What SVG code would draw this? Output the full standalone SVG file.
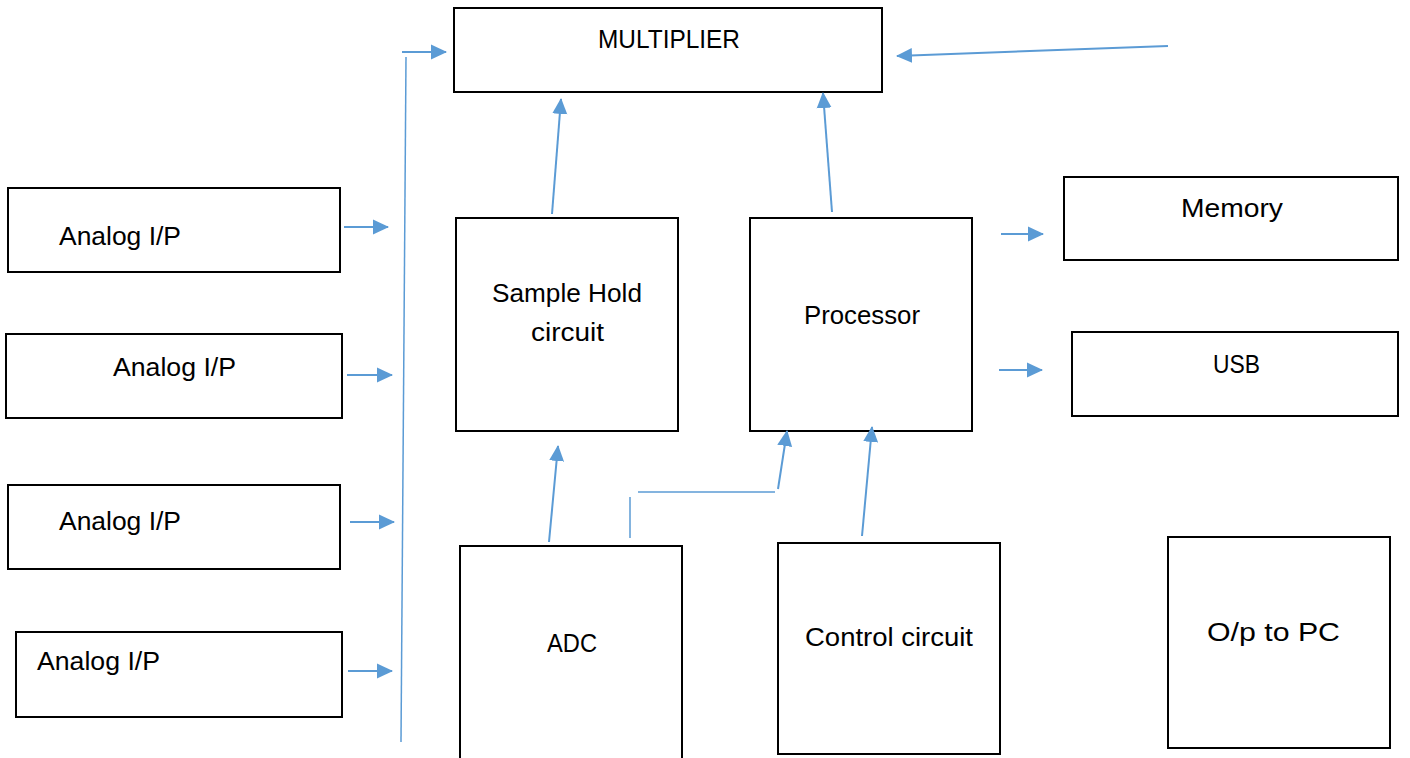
<svg xmlns="http://www.w3.org/2000/svg" width="1410" height="758" viewBox="0 0 1410 758">
<defs>
<marker id="ah" markerWidth="10" markerHeight="10" refX="9" refY="5" orient="auto" markerUnits="userSpaceOnUse" viewBox="0 0 10 10">
<path d="M0,0 L10,5 L0,10 z" fill="#5B9BD5"/>
</marker>
<style>
.box{fill:#fff;stroke:#000;stroke-width:2}
.t{font-family:"Liberation Sans",Arial,sans-serif;font-size:25px;fill:#000}
.c{fill:none;stroke:#5B9BD5;stroke-width:2}
.a{fill:none;stroke:#5B9BD5;stroke-width:2;marker-end:url(#ah)}
.thin{fill:none;stroke:#5B9BD5;stroke-width:1.5}
</style>
<marker id="ahb" markerWidth="16" markerHeight="16" refX="15" refY="8" orient="auto" markerUnits="userSpaceOnUse" viewBox="0 0 16 16">
<path d="M0,0.5 L16,8 L0,15.5 z" fill="#5B9BD5"/>
</marker>
</defs>
<rect width="1410" height="758" fill="#fff"/>
<g id="in1"><rect class="box" x="8" y="188" width="332" height="84"/><text class="t" x="59" y="245" textLength="122" lengthAdjust="spacingAndGlyphs">Analog I/P</text></g>
<g id="in2"><rect class="box" x="6" y="334" width="336" height="84"/><text class="t" x="113" y="376" textLength="123" lengthAdjust="spacingAndGlyphs">Analog I/P</text></g>
<g id="in3"><rect class="box" x="8" y="485" width="332" height="84"/><text class="t" x="59" y="530" textLength="122" lengthAdjust="spacingAndGlyphs">Analog I/P</text></g>
<g id="in4"><rect class="box" x="16" y="632" width="326" height="85"/><text class="t" x="37" y="670" textLength="123" lengthAdjust="spacingAndGlyphs">Analog I/P</text></g>
<g id="multiplier"><rect class="box" x="454" y="8" width="428" height="84"/><text class="t" x="598" y="48" textLength="142" lengthAdjust="spacingAndGlyphs">MULTIPLIER</text></g>
<g id="samplehold"><rect class="box" x="456" y="218" width="222" height="213"/><text class="t" x="492" y="302" textLength="150" lengthAdjust="spacingAndGlyphs">Sample Hold</text><text class="t" x="531" y="341" textLength="73" lengthAdjust="spacingAndGlyphs">circuit</text></g>
<g id="processor"><rect class="box" x="750" y="218" width="222" height="213"/><text class="t" x="804" y="324" textLength="116" lengthAdjust="spacingAndGlyphs">Processor</text></g>
<g id="memory"><rect class="box" x="1064" y="177" width="334" height="83"/><text class="t" x="1181" y="217" textLength="102" lengthAdjust="spacingAndGlyphs">Memory</text></g>
<g id="usb"><rect class="box" x="1072" y="332" width="326" height="84"/><text class="t" x="1213" y="373" textLength="47" lengthAdjust="spacingAndGlyphs">USB</text></g>
<g id="adc"><rect class="box" x="460" y="546" width="222" height="220"/><text class="t" x="547" y="652" textLength="50" lengthAdjust="spacingAndGlyphs">ADC</text></g>
<g id="control"><rect class="box" x="778" y="543" width="222" height="211"/><text class="t" x="805" y="646" textLength="168" lengthAdjust="spacingAndGlyphs">Control circuit</text></g>
<g id="opc"><rect class="box" x="1168" y="537" width="222" height="211"/><text class="t" x="1207" y="641" textLength="133" lengthAdjust="spacingAndGlyphs">O/p to PC</text></g>
<g id="connectors">
<line class="c" x1="344" y1="227" x2="388" y2="227" marker-end="url(#ahb)"/>
<line class="c" x1="347" y1="375" x2="392" y2="375" marker-end="url(#ahb)"/>
<line class="c" x1="350" y1="522" x2="394" y2="522" marker-end="url(#ahb)"/>
<line class="c" x1="348" y1="671" x2="392" y2="671" marker-end="url(#ahb)"/>
<line class="thin" x1="406" y1="57" x2="401" y2="742"/>
<line class="c" x1="402" y1="52" x2="446" y2="52" marker-end="url(#ahb)"/>
<line class="c" x1="552" y1="214" x2="561" y2="99" marker-end="url(#ahb)"/>
<line class="c" x1="832" y1="212" x2="823" y2="93" marker-end="url(#ahb)"/>
<line class="c" x1="1168" y1="46" x2="897" y2="56" marker-end="url(#ahb)"/>
<line class="c" x1="1001" y1="234" x2="1043" y2="234" marker-end="url(#ahb)"/>
<line class="c" x1="999" y1="370" x2="1042" y2="370" marker-end="url(#ahb)"/>
<line class="c" x1="549" y1="542" x2="558" y2="446" marker-end="url(#ahb)"/>
<line class="thin" x1="630" y1="538" x2="630" y2="497"/>
<line class="thin" x1="638" y1="492" x2="775" y2="492"/>
<line class="c" x1="778" y1="489" x2="787" y2="431" marker-end="url(#ahb)"/>
<line class="c" x1="862" y1="536" x2="872" y2="427" marker-end="url(#ahb)"/>
</g>
</svg>
